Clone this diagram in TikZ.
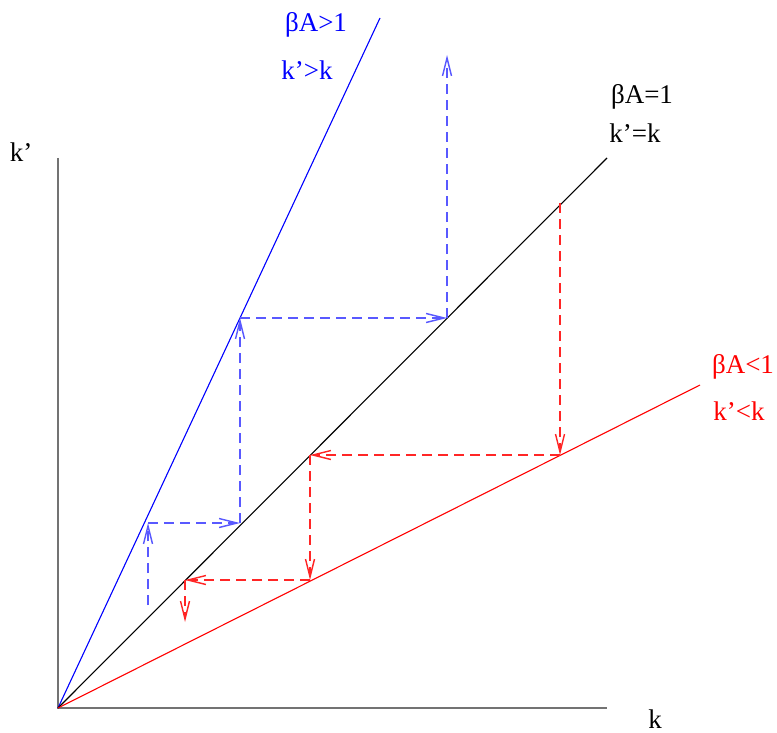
\documentclass[tikz,border=0pt]{standalone}
\usepackage{fontspec}
\setmainfont{Liberation Serif}
\usetikzlibrary{arrows.meta}
\colorlet{axiscol}{black!55}
\colorlet{upcol}{blue!65}
\colorlet{downcol}{red!85}
\tikzset{
  axis/.style={draw=axiscol,line width=1.6pt},
  ray/.style={line width=1.1pt},
  lbl/.style={inner sep=0pt,font=\fontsize{27}{30}\selectfont},
  stepline/.style={dash pattern=on 10pt off 6pt,line width=1.4pt,-{Straight Barb[length=18pt,width=9pt]}},
}
\begin{document}
\begin{tikzpicture}[x=1pt,y=-1pt]
  \useasboundingbox (0,0) rectangle (777,733);
  % axes
  \coordinate (O) at (58,708);
  \coordinate (X) at (607,708);
  \coordinate (Y) at (58,158);
  \draw[axis] (Y) -- (O) -- (X);
  \node[lbl] (klbl) at (655,719) {k};
  \node[lbl] (kplbl) at (21,152) {k’};

  % the three rays
  \coordinate (B) at (380,18);
  \coordinate (D) at (607,158);
  \coordinate (R) at (700,385);
  \draw[ray,blue] (O) -- (B);
  \draw[ray,black] (O) -- (D);
  \draw[ray,red] (O) -- (R);

  % ray labels
  \node[lbl,blue] (bA) at (316,25) {βA>1};
  \node[lbl,blue] (bk) at (307,70) {k’>k};
  \node[lbl] (dA) at (642,97) {βA=1};
  \node[lbl] (dk) at (635,133) {k’=k};
  \node[lbl,red] (rA) at (743,367) {βA<1};
  \node[lbl,red] (rk) at (739,411) {k’<k};

  % growing path (upper ray)
  \coordinate (b0) at (148,605);
  \coordinate (b1) at (148,523);
  \coordinate (b2) at (240,523);
  \coordinate (b3) at (240,318);
  \coordinate (b4) at (447,318);
  \coordinate (b5) at (447,55);
  \foreach \i/\j in {b0/b1,b1/b2,b2/b3,b3/b4,b4/b5}
    \draw[stepline,upcol] (\i) -- (\j);

  % shrinking path (lower ray)
  \coordinate (r0) at (560,203);
  \coordinate (r1) at (560,455);
  \coordinate (r2) at (310,455);
  \coordinate (r3) at (310,580);
  \coordinate (r4) at (185,580);
  \coordinate (r5) at (185,622);
  \foreach \i/\j in {r0/r1,r1/r2,r2/r3,r3/r4,r4/r5}
    \draw[stepline,downcol] (\i) -- (\j);
\end{tikzpicture}
\end{document}
